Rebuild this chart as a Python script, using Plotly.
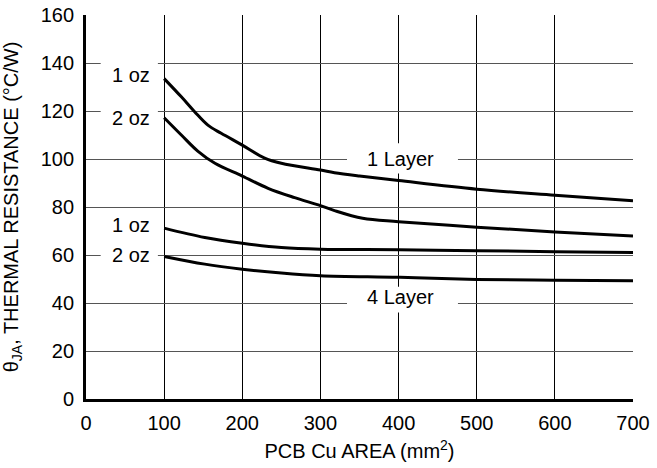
import plotly.graph_objects as go

# Data
area_1l_1oz = [100, 122, 139, 156, 173, 200, 228, 250, 300, 318, 350, 400, 500, 600, 700]
theta_1l_1oz = [133.5, 125.9, 119.7, 114.1, 110.7, 105.8, 100.5, 98.2, 95.4, 94.3, 92.9, 91.0, 87.4, 84.9, 82.6]

area_1l_2oz = [100, 122, 143, 165, 200, 233, 267, 300, 318, 354, 400, 500, 600, 700]
theta_1l_2oz = [117.2, 110.0, 103.3, 98.2, 92.9, 87.8, 83.9, 80.6, 78.5, 75.3, 73.9, 71.6, 69.6, 67.9]

area_4l_1oz = [100, 152, 200, 250, 300, 400, 500, 600, 700]
theta_4l_1oz = [71.2, 67.3, 64.9, 63.1, 62.4, 62.2, 61.8, 61.4, 61.0]

area_4l_2oz = [100, 152, 200, 250, 300, 400, 500, 600, 700]
theta_4l_2oz = [59.4, 56.2, 54.1, 52.5, 51.4, 50.7, 49.8, 49.5, 49.3]

x_ticks = [0, 100, 200, 300, 400, 500, 600, 700]
y_ticks = [0, 20, 40, 60, 80, 100, 120, 140, 160]

FONT = "Liberation Sans, Arial, Helvetica, sans-serif"
FS = 20

fig = go.Figure()
for xs, ys in [(area_1l_1oz, theta_1l_1oz), (area_1l_2oz, theta_1l_2oz),
               (area_4l_1oz, theta_4l_1oz), (area_4l_2oz, theta_4l_2oz)]:
    fig.add_trace(go.Scatter(x=xs, y=ys, mode="lines",
                             line=dict(color="black", width=3, shape="spline", smoothing=1.0),
                             showlegend=False, hoverinfo="skip"))

# white gaps in the grid behind labels
gaps = [
    (18.8, 92, 129.5, 142),
    (18.8, 92, 111.5, 124),
    (18.8, 92, 56, 64),
    (334, 476, 94, 106.6),
    (334, 476, 36, 46.8),
]
for x0, x1, y0, y1 in gaps:
    fig.add_shape(type="rect", x0=x0, x1=x1, y0=y0, y1=y1, xref="x", yref="y",
                  fillcolor="white", line=dict(width=0), layer="between")

labels = [
    (84.4, 134.9, "1 oz", "right"),
    (84.4, 117.2, "2 oz", "right"),
    (84.4, 72.6, "1 oz", "right"),
    (84.4, 60.1, "2 oz", "right"),
    (402, 100, "1 Layer", "center"),
    (402, 42.5, "4 Layer", "center"),
]
for x, y, t, anc in labels:
    fig.add_annotation(x=x, y=y, text=t, showarrow=False, xanchor=anc, yanchor="middle",
                       font=dict(family=FONT, size=FS, color="black"))

fig.update_layout(
    width=657, height=468,
    margin=dict(l=86, r=23.5, t=14.7, b=68.5, autoexpand=False),
    paper_bgcolor="white", plot_bgcolor="white",
    font=dict(family=FONT, size=FS, color="black"),
    xaxis=dict(range=[0, 700], tickvals=x_ticks, showgrid=True, gridcolor="black", gridwidth=1,
               showline=True, linecolor="black", linewidth=2.8, ticks="", zeroline=False,
               automargin=False, ticklabelstandoff=4,
               title=dict(text="PCB Cu AREA (mm<sup>2</sup>)", standoff=12,
                          font=dict(family=FONT, size=FS)),
               tickfont=dict(family=FONT, size=FS)),
    yaxis=dict(range=[0, 160], tickvals=y_ticks, showgrid=True, gridcolor="#555555", gridwidth=1,
               showline=True, linecolor="black", linewidth=2.8, ticks="", zeroline=False,
               automargin=False, ticklabelstandoff=5,
               title=dict(text="θ<sub>JA</sub>, THERMAL RESISTANCE (°C/W)", standoff=18,
                          font=dict(family=FONT, size=FS)),
               tickfont=dict(family=FONT, size=FS)),
)

fig.write_html("out.html", config={"displayModeBar": False},
               post_script="document.body.style.margin='0';")
